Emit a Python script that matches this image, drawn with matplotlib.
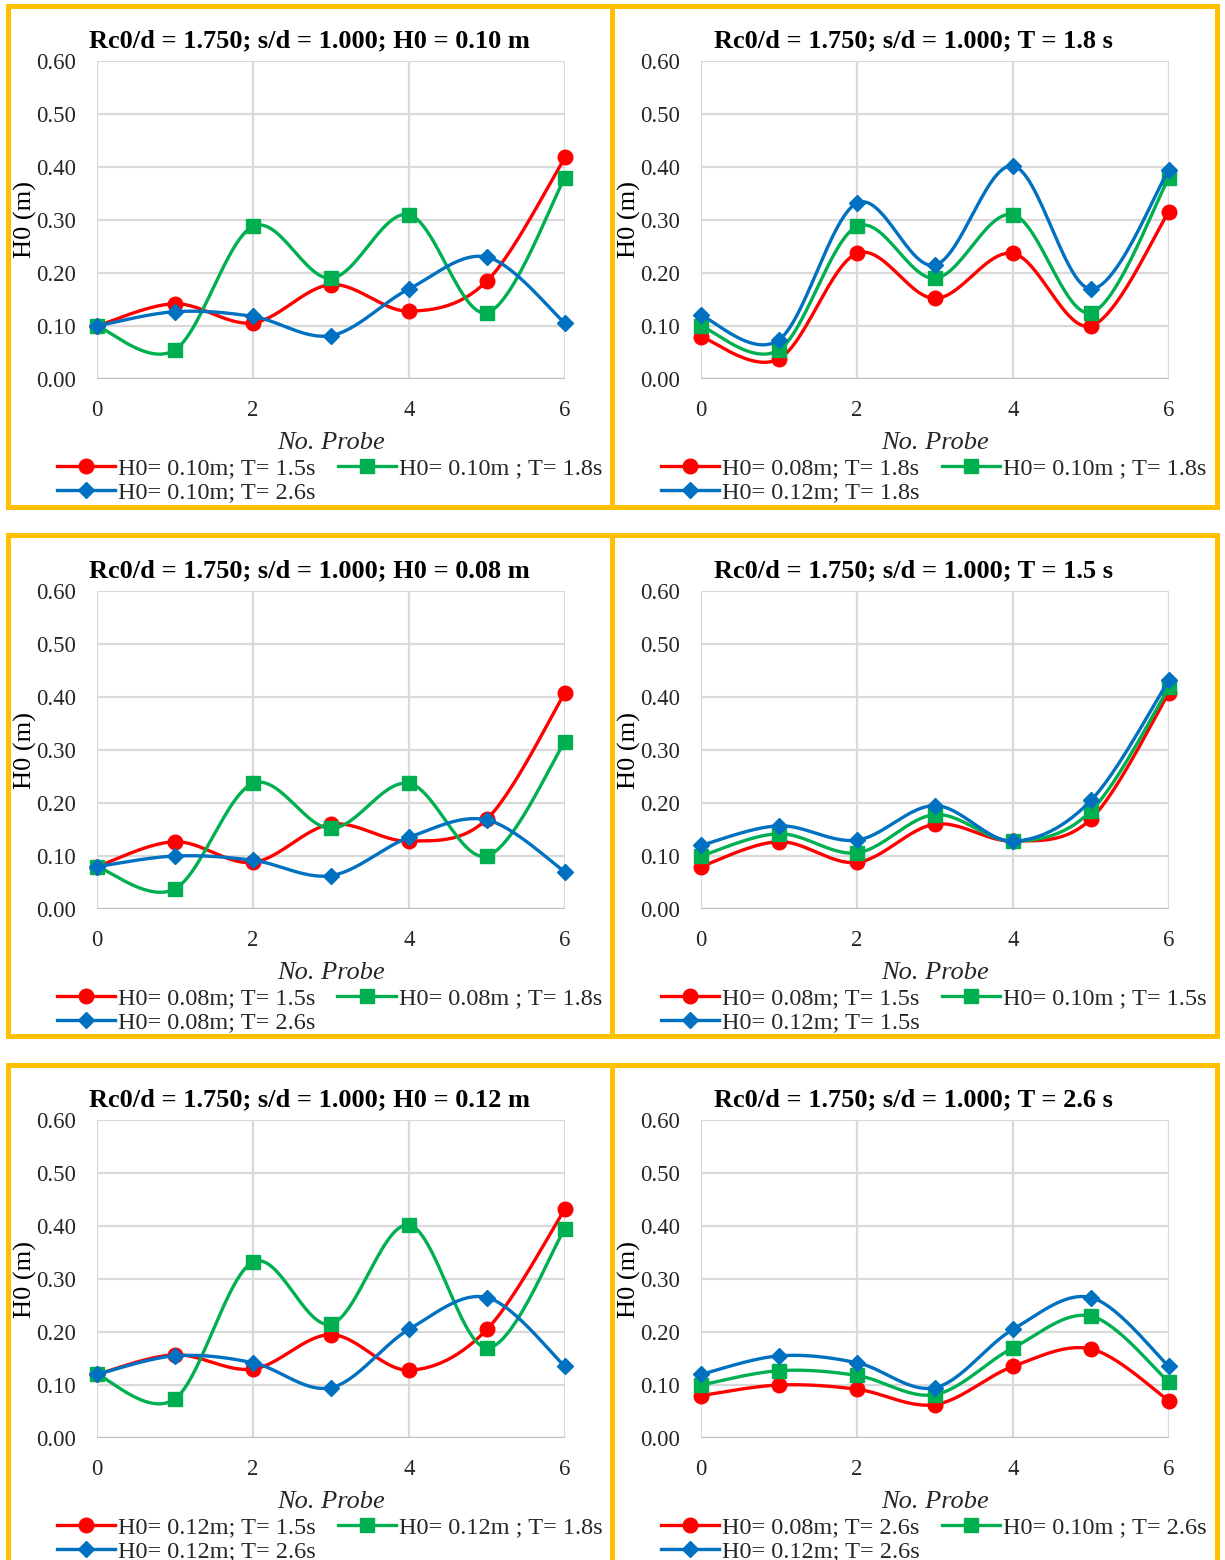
import numpy as np
import matplotlib
matplotlib.use("Agg")
import matplotlib.pyplot as plt
from matplotlib.patches import Rectangle
from matplotlib.lines import Line2D

plt.rcParams['font.family'] = ['Liberation Serif', 'DejaVu Serif']

# ---------------- data ----------------
probes = [0, 1, 2, 3, 4, 5, 6]

h008_t15 = [0.080, 0.127, 0.088, 0.160, 0.128, 0.170, 0.408]
h008_t18 = [0.080, 0.038, 0.237, 0.152, 0.237, 0.100, 0.316]
h008_t26 = [0.080, 0.100, 0.092, 0.063, 0.135, 0.168, 0.070]
h010_t15 = [0.100, 0.142, 0.106, 0.178, 0.128, 0.185, 0.418]
h010_t18 = [0.100, 0.055, 0.288, 0.190, 0.310, 0.125, 0.380]
h010_t26 = [0.100, 0.127, 0.118, 0.082, 0.170, 0.230, 0.105]
h012_t15 = [0.120, 0.157, 0.130, 0.195, 0.128, 0.205, 0.432]
h012_t18 = [0.120, 0.074, 0.332, 0.215, 0.402, 0.170, 0.395]
h012_t26 = [0.120, 0.155, 0.142, 0.095, 0.205, 0.265, 0.135]

titles = [
    "Rc0/d = 1.750; s/d = 1.000; H0 = 0.10 m",
    "Rc0/d = 1.750; s/d = 1.000; T = 1.8 s",
    "Rc0/d = 1.750; s/d = 1.000; H0 = 0.08 m",
    "Rc0/d = 1.750; s/d = 1.000; T = 1.5 s",
    "Rc0/d = 1.750; s/d = 1.000; H0 = 0.12 m",
    "Rc0/d = 1.750; s/d = 1.000; T = 2.6 s",
]
panel_series = [
    [h010_t15, h010_t18, h010_t26],
    [h008_t18, h010_t18, h012_t18],
    [h008_t15, h008_t18, h008_t26],
    [h008_t15, h010_t15, h012_t15],
    [h012_t15, h012_t18, h012_t26],
    [h008_t26, h010_t26, h012_t26],
]
panel_labels = [
    ["H0= 0.10m; T= 1.5s", "H0= 0.10m ; T= 1.8s", "H0= 0.10m; T= 2.6s"],
    ["H0= 0.08m; T= 1.8s", "H0= 0.10m ; T= 1.8s", "H0= 0.12m; T= 1.8s"],
    ["H0= 0.08m; T= 1.5s", "H0= 0.08m ; T= 1.8s", "H0= 0.08m; T= 2.6s"],
    ["H0= 0.08m; T= 1.5s", "H0= 0.10m ; T= 1.5s", "H0= 0.12m; T= 1.5s"],
    ["H0= 0.12m; T= 1.5s", "H0= 0.12m ; T= 1.8s", "H0= 0.12m; T= 2.6s"],
    ["H0= 0.08m; T= 2.6s", "H0= 0.10m ; T= 2.6s", "H0= 0.12m; T= 2.6s"],
]
x_ticks = [0, 2, 4, 6]
y_ticks = [0.0, 0.1, 0.2, 0.3, 0.4, 0.5, 0.6]
xlabel = "No. Probe"
ylabel = "H0 (m)"

colors = ["#FF0000", "#00B050", "#0070C0"]
markers = ["o", "s", "D"]
msizes = [10.5, 9.5, 8]


def smooth(x, y, n=30):
    """Excel-like smoothed line (Catmull-Rom Bezier through the points)."""
    pts = np.column_stack([x, y]).astype(float)
    P = np.vstack([pts[0], pts, pts[-1]])
    t = np.linspace(0, 1, n)[:, None]
    out = []
    for i in range(len(pts) - 1):
        p0, p1, p2, p3 = P[i], P[i + 1], P[i + 2], P[i + 3]
        c1 = p1 + (p2 - p0) / 6.0
        c2 = p2 - (p3 - p1) / 6.0
        seg = ((1 - t) ** 3) * p1 + 3 * ((1 - t) ** 2) * t * c1 + 3 * (1 - t) * t ** 2 * c2 + t ** 3 * p2
        out.append(seg if i == 0 else seg[1:])
    s = np.vstack(out)
    return s[:, 0], s[:, 1]


W, H = 1225, 1560
fig = plt.figure(figsize=(W / 100, H / 100), dpi=100)
fig.patch.set_facecolor("white")


def fx(px):
    return px / W


def fy(py):
    return 1 - py / H


row_off = [0, 530, 1059]
col_off = [0, 604]
gold = "#FFC000"

for idx in range(6):
    r, c = divmod(idx, 2)
    dy = row_off[r]
    dx = col_off[c]
    left, right = 97 + dx, 565 + dx
    top, bottom = 61 + dy, 379 + dy
    ax = fig.add_axes([fx(left), fy(bottom), fx(right - left), (bottom - top) / H])
    ax.set_xlim(0, 6)
    ax.set_ylim(0, 0.6)
    ax.set_xticks(x_ticks)
    ax.set_yticks(y_ticks)
    ax.set_yticklabels([f"{v:.2f}" for v in y_ticks])
    ax.tick_params(length=0, labelsize=16.5, colors="#262626")
    ax.tick_params(axis="y", pad=15)
    ax.tick_params(axis="x", pad=15)
    for sp in ax.spines.values():
        sp.set_visible(False)
    ax.grid(True, color="#D9D9D9", linewidth=1.6)
    ax.axhline(0, color="#BFBFBF", linewidth=1.6, zorder=1)
    ax.set_axisbelow(True)

    handles = []
    for k, ys in enumerate(panel_series[idx]):
        sx, sy = smooth(probes, ys)
        ax.plot(sx, sy, color=colors[k], linewidth=2.4, solid_capstyle="round", zorder=3 + k)
        ax.plot(probes, ys, linestyle="none", marker=markers[k], markersize=msizes[k],
                color=colors[k], clip_on=False, zorder=3 + k)
        handles.append(Line2D([], [], color=colors[k], linewidth=2.4, marker=markers[k],
                              markersize=msizes[k]))

    # title centred on the panel
    fig.text(fx(309 + dx), fy(41 + dy), titles[idx], ha="center", va="center",
             fontsize=19, fontweight="bold", color="black")
    fig.text(fx(331 + dx), fy(443 + dy), xlabel, ha="center", va="center",
             fontsize=19, style="italic", color="#262626")
    fig.text(fx(25 + dx), fy(220 + dy), ylabel, ha="center", va="center",
             fontsize=19, rotation=90, color="black")

    labs = panel_labels[idx]
    leg = ax.legend([handles[0], handles[2], handles[1]], [labs[0], labs[2], labs[1]],
                    ncol=2, loc="upper left", bbox_to_anchor=(fx(57 + dx), fy(457 + dy)),
                    bbox_transform=fig.transFigure, frameon=False, fontsize=17.5,
                    handlelength=2.4, handletextpad=0.12, columnspacing=0.9,
                    labelspacing=0.1, borderpad=0, borderaxespad=0)
    for t in leg.get_texts():
        t.set_color("#262626")

# gold panel borders
lw = 3.6
for r in range(3):
    y0 = [6, 535.5, 1065][r]
    y1 = [506.5, 1035.5, 1570][r]
    for (x0, x1) in [(7.5, 611.5), (611.5, 1216.5)]:
        rect = Rectangle((fx(x0), fy(y1)), fx(x1 - x0), (y1 - y0) / H,
                         transform=fig.transFigure, fill=False, edgecolor=gold,
                         linewidth=lw, zorder=10)
        fig.patches.append(rect)

fig.savefig("out.png", dpi=100, facecolor="white")
